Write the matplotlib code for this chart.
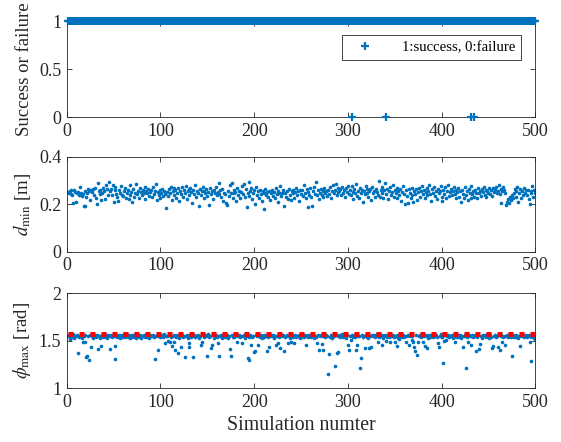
import numpy as np
import matplotlib
matplotlib.use("Agg")
import matplotlib.pyplot as plt

plt.rcParams['font.family'] = ['Liberation Serif', 'DejaVu Serif']
plt.rcParams['mathtext.fontset'] = 'stix'

sim = np.arange(1, 501)
failures = [304, 341, 431, 435]
phi_limit = np.pi / 2

d_min = [
    0.252, 0.248, 0.256, 0.243, 0.259, 0.238, 0.207, 0.262, 0.251, 0.210,
    0.246, 0.253, 0.240, 0.275, 0.249, 0.236, 0.244, 0.195, 0.192, 0.258,
    0.230, 0.247, 0.266, 0.255, 0.218, 0.260, 0.251, 0.264, 0.238, 0.271,
    0.227, 0.203, 0.292, 0.256, 0.245, 0.262, 0.217, 0.250, 0.268, 0.258,
    0.222, 0.281, 0.263, 0.241, 0.294, 0.255, 0.266, 0.238, 0.283, 0.212,
    0.272, 0.259, 0.245, 0.230, 0.215, 0.262, 0.250, 0.278, 0.241, 0.236,
    0.256, 0.268, 0.226, 0.247, 0.259, 0.221, 0.281, 0.240, 0.253, 0.210,
    0.264, 0.233, 0.249, 0.286, 0.245, 0.258, 0.227, 0.270, 0.252, 0.239,
    0.261, 0.247, 0.222, 0.273, 0.255, 0.248, 0.266, 0.236, 0.251, 0.262,
    0.230, 0.275, 0.244, 0.258, 0.287, 0.218, 0.253, 0.240, 0.262, 0.228,
    0.249, 0.264, 0.235, 0.258, 0.244, 0.183, 0.252, 0.237, 0.267, 0.246,
    0.273, 0.219, 0.255, 0.270, 0.241, 0.262, 0.226, 0.250, 0.268, 0.215,
    0.257, 0.243, 0.275, 0.232, 0.260, 0.249, 0.278, 0.224, 0.255, 0.264,
    0.238, 0.271, 0.251, 0.207, 0.262, 0.244, 0.280, 0.233, 0.258, 0.249,
    0.193, 0.266, 0.240, 0.255, 0.272, 0.229, 0.257, 0.246, 0.263, 0.235,
    0.251, 0.199, 0.268, 0.242, 0.256, 0.222, 0.261, 0.248, 0.274, 0.238,
    0.253, 0.290, 0.244, 0.260, 0.231, 0.266, 0.215, 0.250, 0.243, 0.207,
    0.196, 0.258, 0.237, 0.283, 0.249, 0.292, 0.225, 0.262, 0.246, 0.254,
    0.214, 0.269, 0.240, 0.257, 0.228, 0.251, 0.278, 0.243, 0.288, 0.232,
    0.263, 0.190, 0.249, 0.293, 0.236, 0.257, 0.271, 0.221, 0.246, 0.260,
    0.203, 0.274, 0.238, 0.255, 0.229, 0.262, 0.245, 0.216, 0.257, 0.249,
    0.182, 0.265, 0.240, 0.253, 0.231, 0.258, 0.219, 0.247, 0.262, 0.236,
    0.254, 0.226, 0.268, 0.243, 0.258, 0.212, 0.250, 0.277, 0.236, 0.247,
    0.260, 0.192, 0.248, 0.233, 0.256, 0.222, 0.265, 0.241, 0.218, 0.257,
    0.246, 0.262, 0.229, 0.251, 0.270, 0.238, 0.255, 0.213, 0.262, 0.244,
    0.259, 0.235, 0.283, 0.248, 0.226, 0.264, 0.190, 0.252, 0.241, 0.269,
    0.232, 0.192, 0.256, 0.274, 0.243, 0.296, 0.238, 0.259, 0.224, 0.250,
    0.263, 0.241, 0.255, 0.232, 0.268, 0.247, 0.257, 0.236, 0.262, 0.244,
    0.272, 0.229, 0.258, 0.283, 0.246, 0.262, 0.286, 0.240, 0.253, 0.271,
    0.257, 0.263, 0.238, 0.275, 0.247, 0.259, 0.231, 0.268, 0.252, 0.279,
    0.244, 0.262, 0.239, 0.276, 0.254, 0.222, 0.267, 0.248, 0.284, 0.236,
    0.258, 0.229, 0.271, 0.250, 0.262, 0.212, 0.257, 0.243, 0.276, 0.249,
    0.267, 0.232, 0.255, 0.263, 0.218, 0.272, 0.247, 0.256, 0.230, 0.264,
    0.251, 0.240, 0.297, 0.233, 0.262, 0.248, 0.273, 0.227, 0.259, 0.289,
    0.245, 0.266, 0.221, 0.257, 0.274, 0.238, 0.252, 0.281, 0.233, 0.262,
    0.248, 0.270, 0.225, 0.258, 0.240, 0.265, 0.216, 0.253, 0.276, 0.243,
    0.202, 0.259, 0.234, 0.205, 0.263, 0.247, 0.225, 0.270, 0.238, 0.212,
    0.255, 0.243, 0.264, 0.218, 0.252, 0.268, 0.233, 0.257, 0.279, 0.245,
    0.262, 0.226, 0.254, 0.270, 0.239, 0.258, 0.282, 0.244, 0.213, 0.265,
    0.250, 0.273, 0.237, 0.258, 0.221, 0.264, 0.247, 0.255, 0.279, 0.233,
    0.214, 0.261, 0.243, 0.272, 0.228, 0.258, 0.282, 0.235, 0.254, 0.266,
    0.239, 0.257, 0.272, 0.245, 0.226, 0.262, 0.251, 0.268, 0.233, 0.256,
    0.212, 0.260, 0.244, 0.226, 0.275, 0.238, 0.255, 0.219, 0.264, 0.249,
    0.228, 0.277, 0.243, 0.257, 0.232, 0.262, 0.250, 0.226, 0.270, 0.246,
    0.258, 0.237, 0.265, 0.252, 0.275, 0.240, 0.262, 0.230, 0.256, 0.248,
    0.268, 0.244, 0.259, 0.236, 0.271, 0.252, 0.262, 0.275, 0.248, 0.258,
    0.280, 0.244, 0.266, 0.208, 0.257, 0.275, 0.262, 0.250, 0.196, 0.210,
    0.222, 0.205, 0.231, 0.218, 0.240, 0.226, 0.249, 0.264, 0.232, 0.258,
    0.273, 0.212, 0.247, 0.266, 0.229, 0.257, 0.240, 0.271, 0.250, 0.262,
    0.238, 0.261, 0.223, 0.203, 0.247, 0.255, 0.278, 0.232, 0.262, 0.246,
]

phi_max = [
    1.548, 1.562, 1.520, 1.537, 1.555, 1.541, 1.566, 1.529, 1.552, 1.545,
    1.559, 1.370, 1.538, 1.551, 1.563, 1.527, 1.480, 1.546, 1.556, 1.480,
    1.330, 1.340, 1.549, 1.300, 1.561, 1.435, 1.544, 1.532, 1.557, 1.548,
    1.539, 1.563, 1.410, 1.552, 1.527, 1.545, 1.440, 1.558, 1.536, 1.550,
    1.564, 1.541, 1.530, 1.555, 1.547, 1.410, 1.560, 1.535, 1.549, 1.543,
    1.310, 1.440, 1.557, 1.538, 1.551, 1.562, 1.526, 1.546, 1.555, 1.540,
    1.565, 1.533, 1.549, 1.556, 1.542, 1.561, 1.529, 1.553, 1.546, 1.558,
    1.537, 1.550, 1.564, 1.531, 1.547, 1.556, 1.540, 1.562, 1.528, 1.552,
    1.545, 1.559, 1.536, 1.554, 1.563, 1.541, 1.548, 1.530, 1.557, 1.544,
    1.551, 1.562, 1.538, 1.310, 1.549, 1.555, 1.400, 1.543, 1.560, 1.533,
    1.547, 1.556, 1.539, 1.564, 1.470, 1.552, 1.545, 1.500, 1.558, 1.490,
    1.536, 1.445, 1.550, 1.490, 1.561, 1.400, 1.542, 1.554, 1.370, 1.531,
    1.548, 1.430, 1.559, 1.537, 1.551, 1.330, 1.544, 1.563, 1.529, 1.470,
    1.430, 1.556, 1.540, 1.549, 1.330, 1.562, 1.535, 1.553, 1.546, 1.558,
    1.527, 1.552, 1.455, 1.490, 1.561, 1.543, 1.536, 1.555, 1.548, 1.340,
    1.564, 1.539, 1.550, 1.420, 1.455, 1.557, 1.532, 1.546, 1.560, 1.541,
    1.470, 1.340, 1.553, 1.547, 1.562, 1.530, 1.556, 1.544, 1.538, 1.551,
    1.563, 1.528, 1.549, 1.410, 1.340, 1.555, 1.540, 1.559, 1.534, 1.548,
    1.557, 1.480, 1.543, 1.561, 1.537, 1.552, 1.470, 1.546, 1.558, 1.531,
    1.550, 1.564, 1.320, 1.542, 1.300, 1.555, 1.455, 1.536, 1.549, 1.380,
    1.390, 1.560, 1.545, 1.450, 1.553, 1.538, 1.562, 1.529, 1.547, 1.556,
    1.541, 1.551, 1.563, 1.390, 1.534, 1.430, 1.548, 1.557, 1.543, 1.560,
    1.532, 1.550, 1.450, 1.545, 1.561, 1.470, 1.539, 1.420, 1.554, 1.547,
    1.558, 1.395, 1.536, 1.552, 1.563, 1.470, 1.544, 1.530, 1.490, 1.556,
    1.549, 1.540, 1.470, 1.561, 1.535, 1.553, 1.546, 1.559, 1.528, 1.551,
    1.564, 1.542, 1.537, 1.555, 1.450, 1.548, 1.562, 1.533, 1.550, 1.557,
    1.541, 1.546, 1.560, 1.529, 1.553, 1.538, 1.470, 1.556, 1.400, 1.549,
    1.563, 1.460, 1.544, 1.400, 1.552, 1.535, 1.558, 1.547, 1.150, 1.360,
    1.541, 1.561, 1.530, 1.554, 1.548, 1.230, 1.557, 1.370, 1.543, 1.375,
    1.560, 1.536, 1.551, 1.564, 1.539, 1.547, 1.555, 1.527, 1.562, 1.455,
    1.400, 1.545, 1.510, 1.558, 1.533, 1.550, 1.563, 1.541, 1.400, 1.455,
    1.552, 1.546, 1.210, 1.320, 1.559, 1.537, 1.549, 1.420, 1.561, 1.540,
    1.555, 1.531, 1.420, 1.548, 1.430, 1.562, 1.543, 1.556, 1.535, 1.551,
    1.564, 1.490, 1.538, 1.553, 1.546, 1.450, 1.560, 1.529, 1.549, 1.557,
    1.500, 1.541, 1.562, 1.534, 1.490, 1.552, 1.545, 1.559, 1.538, 1.490,
    1.550, 1.440, 1.563, 1.531, 1.520, 1.547, 1.556, 1.540, 1.561, 1.535,
    1.553, 1.490, 1.548, 1.558, 1.455, 1.544, 1.562, 1.510, 1.551, 1.490,
    1.430, 1.390, 1.557, 1.350, 1.490, 1.546, 1.560, 1.536, 1.552, 1.490,
    1.543, 1.440, 1.563, 1.420, 1.549, 1.530, 1.556, 1.541, 1.561, 1.547,
    1.534, 1.554, 1.548, 1.559, 1.538, 1.470, 1.430, 1.551, 1.564, 1.542,
    1.533, 1.260, 1.500, 1.557, 1.510, 1.546, 1.561, 1.537, 1.552, 1.545,
    1.558, 1.529, 1.550, 1.490, 1.563, 1.541, 1.555, 1.536, 1.548, 1.560,
    1.532, 1.553, 1.430, 1.546, 1.562, 1.210, 1.539, 1.490, 1.557, 1.544,
    1.450, 1.551, 1.563, 1.535, 1.548, 1.556, 1.390, 1.540, 1.561, 1.415,
    1.460, 1.549, 1.530, 1.554, 1.559, 1.543, 1.537, 1.552, 1.564, 1.546,
    1.528, 1.557, 1.541, 1.420, 1.440, 1.550, 1.562, 1.534, 1.548, 1.430,
    1.555, 1.400, 1.545, 1.560, 1.490, 1.538, 1.553, 1.455, 1.547, 1.561,
    1.533, 1.550, 1.558, 1.542, 1.340, 1.556, 1.536, 1.549, 1.563, 1.540,
    1.552, 1.531, 1.547, 1.440, 1.559, 1.544, 1.562, 1.535, 1.551, 1.557,
    1.540, 1.548, 1.561, 1.490, 1.533, 1.290, 1.555, 1.546, 1.530, 1.520,
]

success = [0 if n in failures else 1 for n in sim]

BLUE = '#0072BD'
AX_COLOR = '#262626'

fig = plt.figure(figsize=(5.61, 4.42), dpi=100)
ax1 = fig.add_axes([0.119, 0.735, 0.835, 0.217])
ax2 = fig.add_axes([0.119, 0.430, 0.835, 0.215])
ax3 = fig.add_axes([0.119, 0.122, 0.835, 0.215])

ax1.plot(sim, success, '+', color=BLUE, markersize=6, markeredgewidth=1.6,
         linestyle='none', label='1:success, 0:failure', clip_on=False, zorder=3)
ax1.set_ylim(0, 1)
ax1.set_yticks([0, 0.5, 1])
ax1.set_yticklabels(['0', '0.5', '1'])
ax1.set_ylabel('Success or failure')
leg = ax1.legend(loc='upper right', bbox_to_anchor=(0.97, 0.86), fancybox=False,
                 framealpha=1, edgecolor=AX_COLOR, fontsize=10.6, borderpad=0.4,
                 handlelength=2.4, handletextpad=1.3, borderaxespad=0)
leg.get_frame().set_linewidth(0.6)

ax2.plot(sim, d_min, '.', color=BLUE, markersize=3.2)
ax2.set_ylim(0, 0.4)
ax2.set_yticks([0, 0.2, 0.4])
ax2.set_yticklabels(['0', '0.2', '0.4'])
ax2.set_ylabel(r'$d_{\rm min}$ [m]')

ax3.plot(sim, phi_max, '.', color=BLUE, markersize=3.2, zorder=2)
ax3.plot([sim.min(), sim.max()], [phi_limit, phi_limit], color='#FF0000',
         linewidth=3.6, linestyle=(0, (1.0, 1.2)), zorder=3)
ax3.set_ylim(1, 2)
ax3.set_yticks([1, 1.5, 2])
ax3.set_yticklabels(['1', '1.5', '2'])
ax3.set_ylabel(r'$\phi_{\rm max}$ [rad]')
ax3.set_xlabel('Simulation numter', fontsize=14.3)

for ax in (ax1, ax2, ax3):
    ax.set_xlim(0, 500)
    ax.set_xticks([0, 100, 200, 300, 400, 500])
    ax.tick_params(direction='in', top=True, right=True, length=3.5, width=0.6,
                   labelsize=13, colors=AX_COLOR, pad=4)
    for s in ax.spines.values():
        s.set_color(AX_COLOR)
        s.set_linewidth(0.6)
    ax.yaxis.label.set_size(13.5)
    ax.yaxis.label.set_color(AX_COLOR)
    ax.xaxis.label.set_color(AX_COLOR)

fig.savefig('out.png', dpi=100)
